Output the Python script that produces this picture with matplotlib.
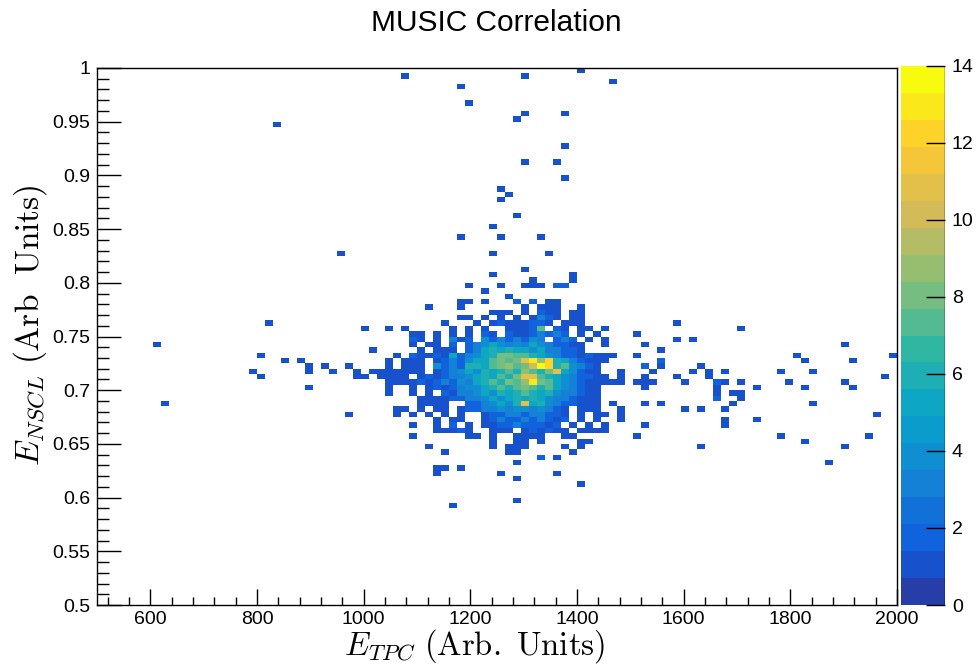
import numpy as np
import matplotlib
matplotlib.use('Agg')
import matplotlib.pyplot as plt
from matplotlib.colors import LinearSegmentedColormap, ListedColormap, BoundaryNorm
from matplotlib.lines import Line2D

plt.rcParams['font.family'] = ['Liberation Sans', 'DejaVu Sans']
plt.rcParams['mathtext.fontset'] = 'cm'

# TH2 binning: 100 x 100
x_edges = np.linspace(500, 2000, 101)
y_edges = np.linspace(0.5, 1.0, 101)

# dense core, one char per bin ('.'=0, 1-9, a-e = 10-14)
# first column = bin starting at x=1025, first row = bin ending at y=0.795
core_x_start = 1025
core_y_top = 0.795
core_rows = [
    "...........1.......11",
    ".............1",
    "................1",
    "..........11.1...2.2.11",
    "......1...1.......1.111..1",
    "..............111.1.211.11",
    "..........11.1.1.1.1321.11",
    "........1...1.12111221.111",
    ".1.1.....1.1.1..11127.21.11.1",
    "....11.1.1.1.21.21123232.1.1....1",
    "....21.1.312.42323243.232.1.1",
    "....1.11.2.234543435432211..1....1",
    ".....1.111.235656554533221.........1",
    "..1.21121523456887765432212111..1",
    ".1.111.12324557878bd9c6532111......2",
    ".1.111.423266578978aec674321.....2.1",
    "111111.123454656769768b54211..1...1",
    "1111.1212334565768bb765432211.1..1",
    ".111121232435676879d87543211111.111",
    ".1..1.1212344567678767543211.....1",
    ".1..1.1.21334546567656433211",
    ".....11112233454565654332111",
    ".....1111..2234546b564322111.1...1.1",
    "..11.1.11.12233434434321.111..1",
    "..1.1.1.1.1..12233233221.1.11.1",
    ".......1.11..12322323212.1.1..1",
    "....1..1.2.1.1122322212.1.1.1....1",
    ".......11121..111.121211.1111",
    "....1......11.1..1111..11.......1",
    "..............1..11.1....11",
    "......1.......1.111....1.1",
    "........1.......11......1",
    "....................2.1",
    ".................1",
    ".......11.1",
    ".......1.......1......1",
    ".................1",
    ".........................1",
    "",
    "",
    ".................1",
    ".........1",
]

# isolated entries outside the core (one entry each)
sparse_x = [
    1077.5, 1302.5, 1407.5, 1467.5, 1182.5, 1197.5, 837.5, 1302.5, 1287.5,
    1377.5, 1377.5, 1302.5, 1362.5, 1377.5, 1257.5, 1272.5, 1257.5, 1287.5,
    1242.5, 1182.5, 1257.5, 1332.5, 957.5, 1242.5, 1347.5, 1302.5, 1242.5,
    1392.5, 1392.5, 1317.5, 1257.5, 1302.5, 1362.5, 1362.5, 1377.5, 1377.5,
    612.5, 627.5, 822.5, 807.5, 852.5, 882.5, 792.5, 807.5, 897.5, 897.5,
    927.5, 942.5, 972.5, 987.5, 987.5, 1002.5, 1017.5, 1002.5, 1017.5,
    897.5, 972.5,
    1587.5, 1707.5, 1587.5, 1617.5, 1902.5, 1812.5, 1827.5, 1917.5, 1992.5,
    1632.5, 1617.5, 1647.5, 1647.5, 1677.5, 1782.5, 1842.5, 1587.5, 1602.5,
    1662.5, 1662.5, 1677.5, 1707.5, 1797.5, 1902.5, 1977.5, 1737.5, 1827.5,
    1917.5, 1662.5, 1662.5, 1662.5, 1662.5, 1692.5, 1707.5, 1707.5, 1602.5,
    1632.5, 1677.5, 1692.5, 1842.5, 1962.5, 1677.5, 1677.5, 1737.5, 1782.5,
    1947.5, 1827.5, 1632.5, 1902.5, 1872.5,
]
sparse_y = [
    0.9925, 0.9925, 0.9975, 0.9875, 0.9825, 0.9675, 0.9475, 0.9575, 0.9525,
    0.9575, 0.9275, 0.9125, 0.9125, 0.8975, 0.8875, 0.8825, 0.8775, 0.8625,
    0.8525, 0.8425, 0.8425, 0.8425, 0.8275, 0.8275, 0.8275, 0.8125, 0.8075,
    0.8075, 0.8025, 0.8025, 0.7975, 0.7975, 0.7975, 0.7975, 0.7975, 0.7975,
    0.7425, 0.6875, 0.7625, 0.7325, 0.7275, 0.7275, 0.7175, 0.7125, 0.7225, 0.7175,
    0.7225, 0.7175, 0.7225, 0.7175, 0.7125, 0.7125, 0.7175, 0.7575, 0.7375,
    0.7025, 0.6775,
    0.7625, 0.7575, 0.7475, 0.7475, 0.7425, 0.7325, 0.7275, 0.7275, 0.7325,
    0.7225, 0.7175, 0.7175, 0.7125, 0.7175, 0.7175, 0.7175, 0.7125, 0.7075,
    0.7075, 0.7075, 0.7075, 0.7075, 0.7075, 0.7075, 0.7125, 0.7025, 0.7025,
    0.7025, 0.7025, 0.6975, 0.6925, 0.6925, 0.6975, 0.6975, 0.6925, 0.6825,
    0.6825, 0.6825, 0.6875, 0.6875, 0.6775, 0.6725, 0.6675, 0.6725, 0.6575,
    0.6575, 0.6525, 0.6475, 0.6475, 0.6325,
]

x_ticks = [600, 800, 1000, 1200, 1400, 1600, 1800, 2000]
y_ticks = [0.5, 0.55, 0.6, 0.65, 0.7, 0.75, 0.8, 0.85, 0.9, 0.95, 1.0]
y_tick_labels = ['0.5', '0.55', '0.6', '0.65', '0.7', '0.75', '0.8', '0.85', '0.9', '0.95', '1']
z_ticks = [0, 2, 4, 6, 8, 10, 12, 14]

# fill histogram
H, _, _ = np.histogram2d(sparse_x, sparse_y, bins=[x_edges, y_edges])
ix0 = np.searchsorted(x_edges, core_x_start)
iy_top = np.searchsorted(y_edges, core_y_top) - 1
for r, row in enumerate(core_rows):
    for c, ch in enumerate(row):
        if ch != '.':
            H[ix0 + c, iy_top - r] += int(ch, 16)

# ROOT kBird palette, 20 contour levels
stops = [0.0, 0.125, 0.25, 0.375, 0.5, 0.625, 0.75, 0.875, 1.0]
red = [0.2082, 0.0592, 0.0780, 0.0232, 0.1802, 0.5301, 0.8186, 0.9956, 0.9764]
green = [0.1664, 0.3599, 0.5041, 0.6419, 0.7178, 0.7492, 0.7328, 0.7862, 0.9832]
blue = [0.5293, 0.8684, 0.8385, 0.7914, 0.6425, 0.4662, 0.3499, 0.1968, 0.0539]
bird = LinearSegmentedColormap.from_list('bird', list(zip(stops, zip(red, green, blue))))
n_levels = 20
band_pos = [min(int((k + 0.99) * 255 / n_levels), 254) / 254 for k in range(n_levels)]
cmap = ListedColormap(bird(band_pos))
norm = BoundaryNorm(np.linspace(0, 14, n_levels + 1), n_levels, clip=True)

fig = plt.figure(figsize=(9.77, 6.66), dpi=100)
ax = fig.add_axes([97 / 977, 61 / 666, 800 / 977, 537 / 666])
Hm = np.ma.masked_where(H.T <= 0, H.T)
mesh = ax.pcolormesh(x_edges, y_edges, Hm, cmap=cmap, norm=norm)

ax.set_xlim(500, 2000)
ax.set_ylim(0.5, 1.0)
ax.set_xticks(x_ticks)
ax.set_xticks(np.arange(520, 2000, 40), minor=True)
ax.set_yticks(y_ticks)
ax.set_yticklabels(y_tick_labels)
ax.set_yticks(np.arange(0.51, 1.0, 0.01), minor=True)
ax.tick_params(axis='both', which='both', direction='in', top=False, right=False,
               labelsize=14, width=1.0, colors='black')
ax.tick_params(axis='x', which='major', length=11.5, pad=4)
ax.tick_params(axis='x', which='minor', length=5.8)
ax.tick_params(axis='y', which='major', length=17.3, pad=5)
ax.tick_params(axis='y', which='minor', length=8.6)
for s in ax.spines.values():
    s.set_linewidth(1.0)

fig.text(0.508, 0.965, 'MUSIC Correlation', ha='center', va='center', fontsize=21.5)
fig.text(0.486, 0.030, r'$E_{TPC}\ \mathrm{(Arb.\ Units)}$', ha='center', va='center', fontsize=23.5)
fig.text(0.031, 0.512, r'$E_{NSCL}\ \mathrm{(Arb\ \ Units)}$', ha='center', va='center',
         fontsize=24, rotation=90)

# palette axis
cax = fig.add_axes([901 / 977, 61 / 666, 44 / 977, 539 / 666])
cbar = fig.colorbar(mesh, cax=cax, ticks=z_ticks)
cbar.outline.set_visible(False)
cax.add_artist(Line2D([1, 1], [0, 1], transform=cax.transAxes, color='black', lw=1.0))
cax.tick_params(direction='in', length=14, width=1.0, labelsize=14, pad=5)
cax.minorticks_off()

fig.savefig('out.png', dpi=100)
